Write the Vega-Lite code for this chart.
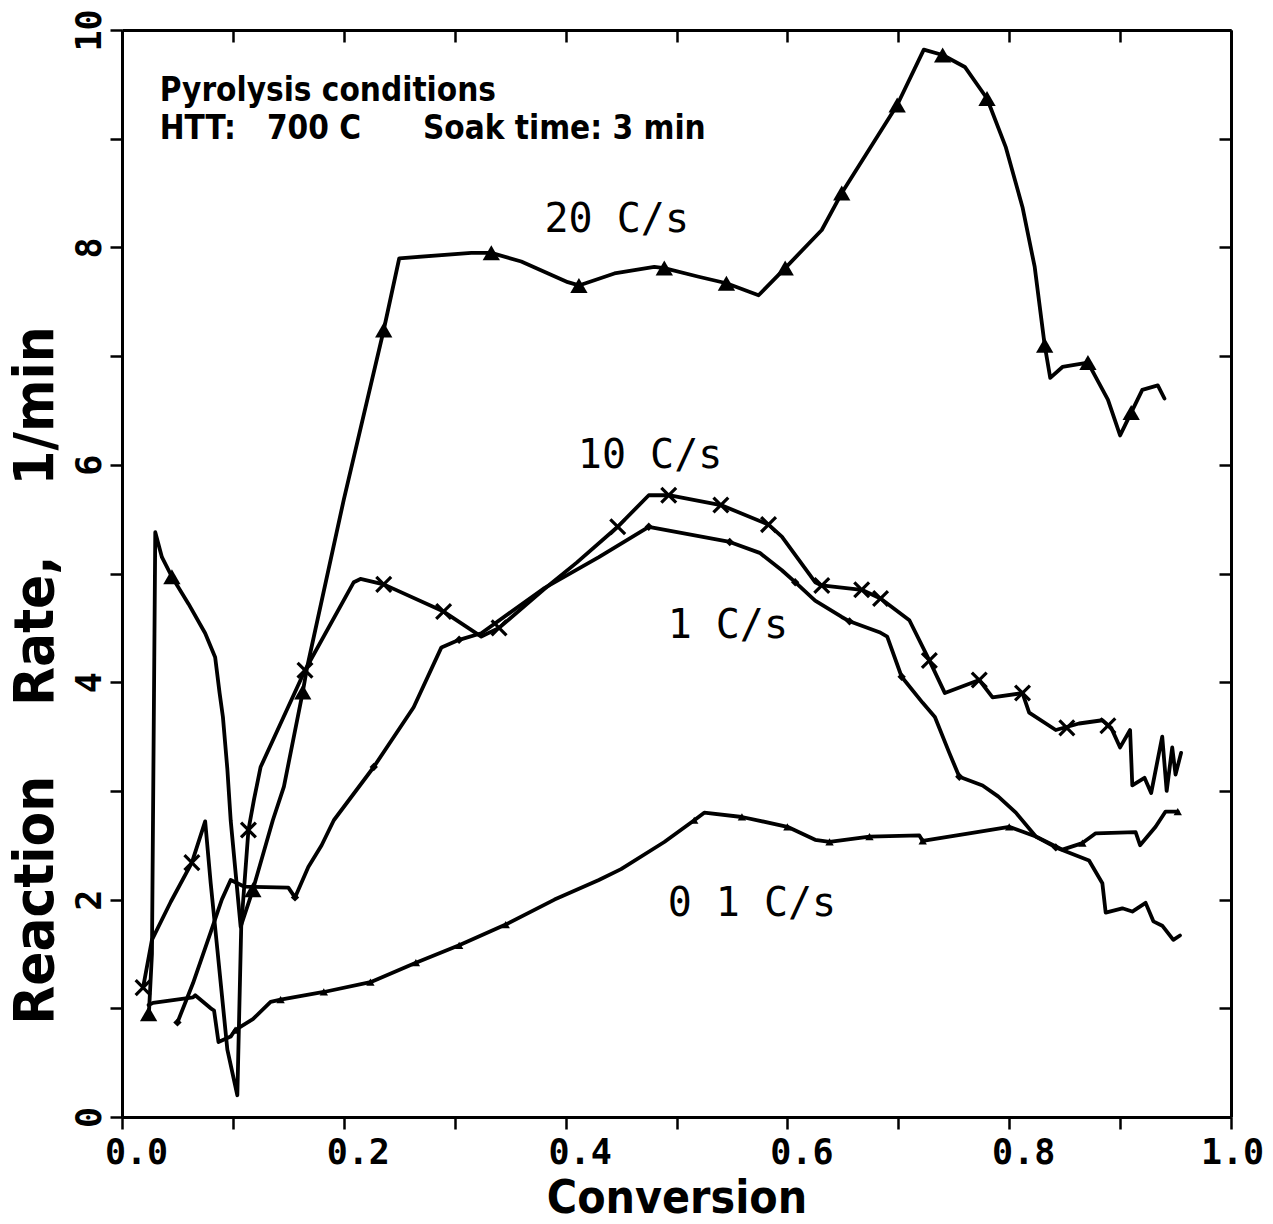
{
  "$schema": "https://vega.github.io/schema/vega-lite/v6.json",
  "width": 1109,
  "height": 1087,
  "autosize": {"type": "none"},
  "padding": {"left": 122, "top": 30, "right": 42, "bottom": 107},
  "background": "white",
  "config": {
    "view": {"stroke": null},
    "axis": {"grid": false, "domainColor": "black", "domainWidth": 3, "tickColor": "black", "tickWidth": 2.5, "labelColor": "black", "titleColor": "black", "labelOverlap": false, "labelFlush": false}
  },
  "datasets": {
    "curves": [
      {"series": "20 C/s", "conversion": 0.024, "rate": 0.9},
      {"series": "20 C/s", "conversion": 0.027, "rate": 1.5},
      {"series": "20 C/s", "conversion": 0.030, "rate": 5.38},
      {"series": "20 C/s", "conversion": 0.036, "rate": 5.15},
      {"series": "20 C/s", "conversion": 0.045, "rate": 4.97},
      {"series": "20 C/s", "conversion": 0.060, "rate": 4.72},
      {"series": "20 C/s", "conversion": 0.075, "rate": 4.45},
      {"series": "20 C/s", "conversion": 0.084, "rate": 4.23},
      {"series": "20 C/s", "conversion": 0.088, "rate": 3.9},
      {"series": "20 C/s", "conversion": 0.091, "rate": 3.68},
      {"series": "20 C/s", "conversion": 0.095, "rate": 3.2},
      {"series": "20 C/s", "conversion": 0.098, "rate": 2.73},
      {"series": "20 C/s", "conversion": 0.107, "rate": 1.75},
      {"series": "20 C/s", "conversion": 0.118, "rate": 2.09},
      {"series": "20 C/s", "conversion": 0.136, "rate": 2.73},
      {"series": "20 C/s", "conversion": 0.146, "rate": 3.04},
      {"series": "20 C/s", "conversion": 0.163, "rate": 3.91},
      {"series": "20 C/s", "conversion": 0.167, "rate": 4.14},
      {"series": "20 C/s", "conversion": 0.200, "rate": 5.68},
      {"series": "20 C/s", "conversion": 0.236, "rate": 7.24},
      {"series": "20 C/s", "conversion": 0.250, "rate": 7.90},
      {"series": "20 C/s", "conversion": 0.315, "rate": 7.95},
      {"series": "20 C/s", "conversion": 0.333, "rate": 7.95},
      {"series": "20 C/s", "conversion": 0.360, "rate": 7.87},
      {"series": "20 C/s", "conversion": 0.402, "rate": 7.68},
      {"series": "20 C/s", "conversion": 0.412, "rate": 7.65},
      {"series": "20 C/s", "conversion": 0.444, "rate": 7.76},
      {"series": "20 C/s", "conversion": 0.480, "rate": 7.82},
      {"series": "20 C/s", "conversion": 0.489, "rate": 7.81},
      {"series": "20 C/s", "conversion": 0.520, "rate": 7.73},
      {"series": "20 C/s", "conversion": 0.545, "rate": 7.67},
      {"series": "20 C/s", "conversion": 0.574, "rate": 7.56},
      {"series": "20 C/s", "conversion": 0.598, "rate": 7.81},
      {"series": "20 C/s", "conversion": 0.631, "rate": 8.16},
      {"series": "20 C/s", "conversion": 0.649, "rate": 8.50},
      {"series": "20 C/s", "conversion": 0.699, "rate": 9.31},
      {"series": "20 C/s", "conversion": 0.723, "rate": 9.82},
      {"series": "20 C/s", "conversion": 0.740, "rate": 9.77},
      {"series": "20 C/s", "conversion": 0.760, "rate": 9.66},
      {"series": "20 C/s", "conversion": 0.780, "rate": 9.37},
      {"series": "20 C/s", "conversion": 0.797, "rate": 8.92},
      {"series": "20 C/s", "conversion": 0.812, "rate": 8.37},
      {"series": "20 C/s", "conversion": 0.823, "rate": 7.82},
      {"series": "20 C/s", "conversion": 0.832, "rate": 7.10},
      {"series": "20 C/s", "conversion": 0.837, "rate": 6.80},
      {"series": "20 C/s", "conversion": 0.848, "rate": 6.90},
      {"series": "20 C/s", "conversion": 0.871, "rate": 6.94},
      {"series": "20 C/s", "conversion": 0.889, "rate": 6.60},
      {"series": "20 C/s", "conversion": 0.900, "rate": 6.27},
      {"series": "20 C/s", "conversion": 0.910, "rate": 6.48},
      {"series": "20 C/s", "conversion": 0.920, "rate": 6.69},
      {"series": "20 C/s", "conversion": 0.934, "rate": 6.73},
      {"series": "20 C/s", "conversion": 0.940, "rate": 6.61},

      {"series": "10 C/s", "conversion": 0.019, "rate": 1.19},
      {"series": "10 C/s", "conversion": 0.027, "rate": 1.63},
      {"series": "10 C/s", "conversion": 0.044, "rate": 1.98},
      {"series": "10 C/s", "conversion": 0.063, "rate": 2.34},
      {"series": "10 C/s", "conversion": 0.075, "rate": 2.72},
      {"series": "10 C/s", "conversion": 0.080, "rate": 2.15},
      {"series": "10 C/s", "conversion": 0.086, "rate": 1.54},
      {"series": "10 C/s", "conversion": 0.095, "rate": 0.62},
      {"series": "10 C/s", "conversion": 0.104, "rate": 0.2},
      {"series": "10 C/s", "conversion": 0.1075, "rate": 1.75},
      {"series": "10 C/s", "conversion": 0.114, "rate": 2.64},
      {"series": "10 C/s", "conversion": 0.119, "rate": 2.92},
      {"series": "10 C/s", "conversion": 0.125, "rate": 3.22},
      {"series": "10 C/s", "conversion": 0.161, "rate": 4.02},
      {"series": "10 C/s", "conversion": 0.165, "rate": 4.11},
      {"series": "10 C/s", "conversion": 0.209, "rate": 4.92},
      {"series": "10 C/s", "conversion": 0.215, "rate": 4.95},
      {"series": "10 C/s", "conversion": 0.236, "rate": 4.90},
      {"series": "10 C/s", "conversion": 0.290, "rate": 4.65},
      {"series": "10 C/s", "conversion": 0.324, "rate": 4.42},
      {"series": "10 C/s", "conversion": 0.340, "rate": 4.50},
      {"series": "10 C/s", "conversion": 0.380, "rate": 4.85},
      {"series": "10 C/s", "conversion": 0.410, "rate": 5.10},
      {"series": "10 C/s", "conversion": 0.447, "rate": 5.43},
      {"series": "10 C/s", "conversion": 0.475, "rate": 5.72},
      {"series": "10 C/s", "conversion": 0.493, "rate": 5.72},
      {"series": "10 C/s", "conversion": 0.540, "rate": 5.63},
      {"series": "10 C/s", "conversion": 0.583, "rate": 5.45},
      {"series": "10 C/s", "conversion": 0.595, "rate": 5.34},
      {"series": "10 C/s", "conversion": 0.625, "rate": 4.92},
      {"series": "10 C/s", "conversion": 0.631, "rate": 4.89},
      {"series": "10 C/s", "conversion": 0.667, "rate": 4.85},
      {"series": "10 C/s", "conversion": 0.684, "rate": 4.77},
      {"series": "10 C/s", "conversion": 0.710, "rate": 4.57},
      {"series": "10 C/s", "conversion": 0.728, "rate": 4.20},
      {"series": "10 C/s", "conversion": 0.742, "rate": 3.90},
      {"series": "10 C/s", "conversion": 0.773, "rate": 4.02},
      {"series": "10 C/s", "conversion": 0.785, "rate": 3.86},
      {"series": "10 C/s", "conversion": 0.812, "rate": 3.90},
      {"series": "10 C/s", "conversion": 0.818, "rate": 3.72},
      {"series": "10 C/s", "conversion": 0.842, "rate": 3.56},
      {"series": "10 C/s", "conversion": 0.863, "rate": 3.62},
      {"series": "10 C/s", "conversion": 0.884, "rate": 3.65},
      {"series": "10 C/s", "conversion": 0.892, "rate": 3.58},
      {"series": "10 C/s", "conversion": 0.900, "rate": 3.40},
      {"series": "10 C/s", "conversion": 0.909, "rate": 3.56},
      {"series": "10 C/s", "conversion": 0.911, "rate": 3.05},
      {"series": "10 C/s", "conversion": 0.922, "rate": 3.12},
      {"series": "10 C/s", "conversion": 0.928, "rate": 2.98},
      {"series": "10 C/s", "conversion": 0.938, "rate": 3.50},
      {"series": "10 C/s", "conversion": 0.942, "rate": 3.00},
      {"series": "10 C/s", "conversion": 0.947, "rate": 3.40},
      {"series": "10 C/s", "conversion": 0.950, "rate": 3.15},
      {"series": "10 C/s", "conversion": 0.955, "rate": 3.35},

      {"series": "1 C/s", "conversion": 0.050, "rate": 0.87},
      {"series": "1 C/s", "conversion": 0.064, "rate": 1.23},
      {"series": "1 C/s", "conversion": 0.080, "rate": 1.70},
      {"series": "1 C/s", "conversion": 0.090, "rate": 2.0},
      {"series": "1 C/s", "conversion": 0.098, "rate": 2.18},
      {"series": "1 C/s", "conversion": 0.110, "rate": 2.12},
      {"series": "1 C/s", "conversion": 0.150, "rate": 2.11},
      {"series": "1 C/s", "conversion": 0.156, "rate": 2.02},
      {"series": "1 C/s", "conversion": 0.168, "rate": 2.3},
      {"series": "1 C/s", "conversion": 0.180, "rate": 2.5},
      {"series": "1 C/s", "conversion": 0.191, "rate": 2.73},
      {"series": "1 C/s", "conversion": 0.227, "rate": 3.22},
      {"series": "1 C/s", "conversion": 0.263, "rate": 3.77},
      {"series": "1 C/s", "conversion": 0.288, "rate": 4.32},
      {"series": "1 C/s", "conversion": 0.304, "rate": 4.39},
      {"series": "1 C/s", "conversion": 0.324, "rate": 4.45},
      {"series": "1 C/s", "conversion": 0.380, "rate": 4.86},
      {"series": "1 C/s", "conversion": 0.430, "rate": 5.15},
      {"series": "1 C/s", "conversion": 0.475, "rate": 5.43},
      {"series": "1 C/s", "conversion": 0.548, "rate": 5.29},
      {"series": "1 C/s", "conversion": 0.575, "rate": 5.19},
      {"series": "1 C/s", "conversion": 0.595, "rate": 5.03},
      {"series": "1 C/s", "conversion": 0.607, "rate": 4.92},
      {"series": "1 C/s", "conversion": 0.625, "rate": 4.75},
      {"series": "1 C/s", "conversion": 0.649, "rate": 4.60},
      {"series": "1 C/s", "conversion": 0.656, "rate": 4.56},
      {"series": "1 C/s", "conversion": 0.683, "rate": 4.46},
      {"series": "1 C/s", "conversion": 0.690, "rate": 4.42},
      {"series": "1 C/s", "conversion": 0.703, "rate": 4.05},
      {"series": "1 C/s", "conversion": 0.722, "rate": 3.81},
      {"series": "1 C/s", "conversion": 0.733, "rate": 3.68},
      {"series": "1 C/s", "conversion": 0.746, "rate": 3.35},
      {"series": "1 C/s", "conversion": 0.755, "rate": 3.13},
      {"series": "1 C/s", "conversion": 0.776, "rate": 3.05},
      {"series": "1 C/s", "conversion": 0.790, "rate": 2.95},
      {"series": "1 C/s", "conversion": 0.806, "rate": 2.80},
      {"series": "1 C/s", "conversion": 0.824, "rate": 2.58},
      {"series": "1 C/s", "conversion": 0.842, "rate": 2.48},
      {"series": "1 C/s", "conversion": 0.872, "rate": 2.36},
      {"series": "1 C/s", "conversion": 0.884, "rate": 2.15},
      {"series": "1 C/s", "conversion": 0.887, "rate": 1.88},
      {"series": "1 C/s", "conversion": 0.902, "rate": 1.92},
      {"series": "1 C/s", "conversion": 0.911, "rate": 1.89},
      {"series": "1 C/s", "conversion": 0.923, "rate": 1.97},
      {"series": "1 C/s", "conversion": 0.930, "rate": 1.80},
      {"series": "1 C/s", "conversion": 0.938, "rate": 1.76},
      {"series": "1 C/s", "conversion": 0.948, "rate": 1.63},
      {"series": "1 C/s", "conversion": 0.954, "rate": 1.67},

      {"series": "0.1 C/s", "conversion": 0.024, "rate": 1.03},
      {"series": "0.1 C/s", "conversion": 0.028, "rate": 1.05},
      {"series": "0.1 C/s", "conversion": 0.064, "rate": 1.10},
      {"series": "0.1 C/s", "conversion": 0.066, "rate": 1.12},
      {"series": "0.1 C/s", "conversion": 0.080, "rate": 1.0},
      {"series": "0.1 C/s", "conversion": 0.083, "rate": 0.98},
      {"series": "0.1 C/s", "conversion": 0.087, "rate": 0.69},
      {"series": "0.1 C/s", "conversion": 0.098, "rate": 0.74},
      {"series": "0.1 C/s", "conversion": 0.102, "rate": 0.80},
      {"series": "0.1 C/s", "conversion": 0.118, "rate": 0.90},
      {"series": "0.1 C/s", "conversion": 0.134, "rate": 1.06},
      {"series": "0.1 C/s", "conversion": 0.143, "rate": 1.08},
      {"series": "0.1 C/s", "conversion": 0.182, "rate": 1.15},
      {"series": "0.1 C/s", "conversion": 0.224, "rate": 1.24},
      {"series": "0.1 C/s", "conversion": 0.265, "rate": 1.42},
      {"series": "0.1 C/s", "conversion": 0.304, "rate": 1.58},
      {"series": "0.1 C/s", "conversion": 0.346, "rate": 1.77},
      {"series": "0.1 C/s", "conversion": 0.390, "rate": 2.00},
      {"series": "0.1 C/s", "conversion": 0.430, "rate": 2.18},
      {"series": "0.1 C/s", "conversion": 0.450, "rate": 2.28},
      {"series": "0.1 C/s", "conversion": 0.489, "rate": 2.53},
      {"series": "0.1 C/s", "conversion": 0.516, "rate": 2.73},
      {"series": "0.1 C/s", "conversion": 0.525, "rate": 2.80},
      {"series": "0.1 C/s", "conversion": 0.559, "rate": 2.76},
      {"series": "0.1 C/s", "conversion": 0.600, "rate": 2.67},
      {"series": "0.1 C/s", "conversion": 0.625, "rate": 2.55},
      {"series": "0.1 C/s", "conversion": 0.638, "rate": 2.53},
      {"series": "0.1 C/s", "conversion": 0.674, "rate": 2.58},
      {"series": "0.1 C/s", "conversion": 0.719, "rate": 2.59},
      {"series": "0.1 C/s", "conversion": 0.722, "rate": 2.54},
      {"series": "0.1 C/s", "conversion": 0.764, "rate": 2.61},
      {"series": "0.1 C/s", "conversion": 0.800, "rate": 2.67},
      {"series": "0.1 C/s", "conversion": 0.824, "rate": 2.58},
      {"series": "0.1 C/s", "conversion": 0.848, "rate": 2.46},
      {"series": "0.1 C/s", "conversion": 0.866, "rate": 2.52},
      {"series": "0.1 C/s", "conversion": 0.878, "rate": 2.61},
      {"series": "0.1 C/s", "conversion": 0.914, "rate": 2.62},
      {"series": "0.1 C/s", "conversion": 0.918, "rate": 2.50},
      {"series": "0.1 C/s", "conversion": 0.932, "rate": 2.67},
      {"series": "0.1 C/s", "conversion": 0.941, "rate": 2.81},
      {"series": "0.1 C/s", "conversion": 0.952, "rate": 2.81}
    ],
    "markers": [
      {"series": "20 C/s", "conversion": 0.024, "rate": 0.95},
      {"series": "20 C/s", "conversion": 0.045, "rate": 4.97},
      {"series": "20 C/s", "conversion": 0.118, "rate": 2.09},
      {"series": "20 C/s", "conversion": 0.163, "rate": 3.91},
      {"series": "20 C/s", "conversion": 0.236, "rate": 7.24},
      {"series": "20 C/s", "conversion": 0.333, "rate": 7.95},
      {"series": "20 C/s", "conversion": 0.412, "rate": 7.65},
      {"series": "20 C/s", "conversion": 0.489, "rate": 7.81},
      {"series": "20 C/s", "conversion": 0.545, "rate": 7.67},
      {"series": "20 C/s", "conversion": 0.598, "rate": 7.81},
      {"series": "20 C/s", "conversion": 0.649, "rate": 8.50},
      {"series": "20 C/s", "conversion": 0.699, "rate": 9.31},
      {"series": "20 C/s", "conversion": 0.740, "rate": 9.77},
      {"series": "20 C/s", "conversion": 0.780, "rate": 9.37},
      {"series": "20 C/s", "conversion": 0.832, "rate": 7.10},
      {"series": "20 C/s", "conversion": 0.871, "rate": 6.94},
      {"series": "20 C/s", "conversion": 0.910, "rate": 6.48},
      {"series": "10 C/s", "conversion": 0.019, "rate": 1.19},
      {"series": "10 C/s", "conversion": 0.063, "rate": 2.34},
      {"series": "10 C/s", "conversion": 0.114, "rate": 2.64},
      {"series": "10 C/s", "conversion": 0.165, "rate": 4.11},
      {"series": "10 C/s", "conversion": 0.236, "rate": 4.90},
      {"series": "10 C/s", "conversion": 0.290, "rate": 4.65},
      {"series": "10 C/s", "conversion": 0.340, "rate": 4.50},
      {"series": "10 C/s", "conversion": 0.447, "rate": 5.43},
      {"series": "10 C/s", "conversion": 0.493, "rate": 5.72},
      {"series": "10 C/s", "conversion": 0.540, "rate": 5.63},
      {"series": "10 C/s", "conversion": 0.583, "rate": 5.45},
      {"series": "10 C/s", "conversion": 0.631, "rate": 4.89},
      {"series": "10 C/s", "conversion": 0.667, "rate": 4.85},
      {"series": "10 C/s", "conversion": 0.684, "rate": 4.77},
      {"series": "10 C/s", "conversion": 0.728, "rate": 4.20},
      {"series": "10 C/s", "conversion": 0.773, "rate": 4.02},
      {"series": "10 C/s", "conversion": 0.812, "rate": 3.90},
      {"series": "10 C/s", "conversion": 0.852, "rate": 3.58},
      {"series": "10 C/s", "conversion": 0.889, "rate": 3.60},
      {"series": "1 C/s", "conversion": 0.050, "rate": 0.87},
      {"series": "1 C/s", "conversion": 0.156, "rate": 2.02},
      {"series": "1 C/s", "conversion": 0.227, "rate": 3.22},
      {"series": "1 C/s", "conversion": 0.304, "rate": 4.39},
      {"series": "1 C/s", "conversion": 0.475, "rate": 5.43},
      {"series": "1 C/s", "conversion": 0.548, "rate": 5.29},
      {"series": "1 C/s", "conversion": 0.607, "rate": 4.92},
      {"series": "1 C/s", "conversion": 0.656, "rate": 4.56},
      {"series": "1 C/s", "conversion": 0.703, "rate": 4.05},
      {"series": "1 C/s", "conversion": 0.755, "rate": 3.13},
      {"series": "1 C/s", "conversion": 0.842, "rate": 2.48},
      {"series": "0.1 C/s", "conversion": 0.102, "rate": 0.80},
      {"series": "0.1 C/s", "conversion": 0.143, "rate": 1.08},
      {"series": "0.1 C/s", "conversion": 0.182, "rate": 1.15},
      {"series": "0.1 C/s", "conversion": 0.224, "rate": 1.24},
      {"series": "0.1 C/s", "conversion": 0.265, "rate": 1.42},
      {"series": "0.1 C/s", "conversion": 0.304, "rate": 1.58},
      {"series": "0.1 C/s", "conversion": 0.346, "rate": 1.77},
      {"series": "0.1 C/s", "conversion": 0.516, "rate": 2.73},
      {"series": "0.1 C/s", "conversion": 0.559, "rate": 2.76},
      {"series": "0.1 C/s", "conversion": 0.600, "rate": 2.67},
      {"series": "0.1 C/s", "conversion": 0.638, "rate": 2.53},
      {"series": "0.1 C/s", "conversion": 0.674, "rate": 2.58},
      {"series": "0.1 C/s", "conversion": 0.722, "rate": 2.54},
      {"series": "0.1 C/s", "conversion": 0.800, "rate": 2.67},
      {"series": "0.1 C/s", "conversion": 0.866, "rate": 2.52},
      {"series": "0.1 C/s", "conversion": 0.952, "rate": 2.81}
    ],
    "notes": [
      {"kind": "header", "conversion": 0.034, "rate": 9.35, "text": "Pyrolysis conditions"},
      {"kind": "header", "conversion": 0.034, "rate": 9.0, "text": "HTT:\u00a0\u00a0\u00a0700 C\u00a0\u00a0\u00a0\u00a0\u00a0\u00a0Soak time: 3 min"},
      {"kind": "curve", "conversion": 0.381, "rate": 8.14, "text": "20 C/s"},
      {"kind": "curve", "conversion": 0.411, "rate": 5.97, "text": "10 C/s"},
      {"kind": "curve", "conversion": 0.492, "rate": 4.41, "text": "1 C/s"},
      {"kind": "curve", "conversion": 0.492, "rate": 1.85, "text": "0 1 C/s"}
    ]
  },
  "layer": [
    {
      "data": {"name": "curves"},
      "mark": {"type": "line", "color": "black", "strokeWidth": 3.8, "strokeJoin": "round", "strokeCap": "round"},
      "encoding": {
        "x": {"field": "conversion", "type": "quantitative", "scale": {"domain": [0, 1], "nice": false, "zero": false},
          "axis": {"orient": "bottom", "values": [0, 0.1, 0.2, 0.3, 0.4, 0.5, 0.6, 0.7, 0.8, 0.9, 1.0],
            "labelExpr": "round(datum.value*10)%2==0 ? format(datum.value,'.1f') : ''",
            "tickSize": 12, "labelPadding": 6, "labelFont": "DejaVu Sans Mono", "labelFontWeight": "bold", "labelFontSize": 35,
            "labelOffset": {"condition": {"test": "datum.value > 0.95", "value": 1}, "value": 14},
            "title": "Conversion", "titleFont": "DejaVu Sans Condensed, Liberation Sans", "titleFontWeight": "bold", "titleFontSize": 46, "titlePadding": 6}},
        "y": {"field": "rate", "type": "quantitative", "scale": {"domain": [0, 10], "nice": false},
          "axis": {"orient": "left", "values": [0, 1, 2, 3, 4, 5, 6, 7, 8, 9, 10],
            "labelExpr": "datum.value%2==0 ? format(datum.value,'d') : ''",
            "tickSize": 12, "labelPadding": 10, "labelAngle": -90, "labelAlign": "center", "labelBaseline": "alphabetic",
            "labelFont": "DejaVu Sans Mono", "labelFontWeight": "bold", "labelFontSize": 35,
            "title": "Reaction\u00a0\u00a0\u00a0\u00a0Rate,\u00a0\u00a0\u00a0\u00a01/min", "titleFont": "DejaVu Sans Condensed, Liberation Sans", "titleFontWeight": "bold", "titleFontSize": 56,
            "titleAngle": -90, "titleX": -87, "titleY": 645, "titleAlign": "center", "titleBaseline": "middle"}},
        "detail": {"field": "series"}
      }
    },
    {
      "data": {"name": "markers"},
      "transform": [{"filter": "datum.series == '20 C/s'"}],
      "mark": {"type": "point", "shape": "triangle-up", "filled": true, "color": "black", "opacity": 1, "size": 300},
      "encoding": {
        "x": {"field": "conversion", "type": "quantitative",
          "axis": {"orient": "top", "values": [0, 0.1, 0.2, 0.3, 0.4, 0.5, 0.6, 0.7, 0.8, 0.9, 1.0], "labels": false, "tickSize": -12, "title": null}},
        "y": {"field": "rate", "type": "quantitative",
          "axis": {"orient": "right", "values": [0, 1, 2, 3, 4, 5, 6, 7, 8, 9, 10], "labels": false, "tickSize": -12, "title": null}}
      }
    },
    {
      "data": {"name": "markers"},
      "transform": [{"filter": "datum.series == '10 C/s'"}],
      "mark": {"type": "point", "shape": "M-1,-1L1,1M-1,1L1,-1", "filled": false, "color": "black", "opacity": 1, "size": 220, "strokeWidth": 3.2},
      "encoding": {
        "x": {"field": "conversion", "type": "quantitative", "axis": null},
        "y": {"field": "rate", "type": "quantitative", "axis": null}
      }
    },
    {
      "data": {"name": "markers"},
      "transform": [{"filter": "datum.series == '1 C/s'"}],
      "mark": {"type": "point", "shape": "diamond", "filled": true, "color": "black", "opacity": 1, "size": 70},
      "encoding": {
        "x": {"field": "conversion", "type": "quantitative", "axis": null},
        "y": {"field": "rate", "type": "quantitative", "axis": null}
      }
    },
    {
      "data": {"name": "markers"},
      "transform": [{"filter": "datum.series == '0.1 C/s'"}],
      "mark": {"type": "point", "shape": "triangle-up", "filled": true, "color": "black", "opacity": 1, "size": 70},
      "encoding": {
        "x": {"field": "conversion", "type": "quantitative", "axis": null},
        "y": {"field": "rate", "type": "quantitative", "axis": null}
      }
    },
    {
      "data": {"name": "notes"},
      "transform": [{"filter": "datum.kind == 'header'"}],
      "mark": {"type": "text", "align": "left", "baseline": "alphabetic", "font": "DejaVu Sans Condensed, Liberation Sans", "fontWeight": "bold", "fontSize": 33, "color": "black"},
      "encoding": {
        "x": {"field": "conversion", "type": "quantitative", "axis": null},
        "y": {"field": "rate", "type": "quantitative", "axis": null},
        "text": {"field": "text"}
      }
    },
    {
      "data": {"name": "notes"},
      "transform": [{"filter": "datum.kind == 'curve'"}],
      "mark": {"type": "text", "align": "left", "baseline": "alphabetic", "font": "DejaVu Sans Mono", "fontSize": 40, "color": "black"},
      "encoding": {
        "x": {"field": "conversion", "type": "quantitative", "axis": null},
        "y": {"field": "rate", "type": "quantitative", "axis": null},
        "text": {"field": "text"}
      }
    }
  ],
  "resolve": {"axis": {"x": "independent", "y": "independent"}}
}
